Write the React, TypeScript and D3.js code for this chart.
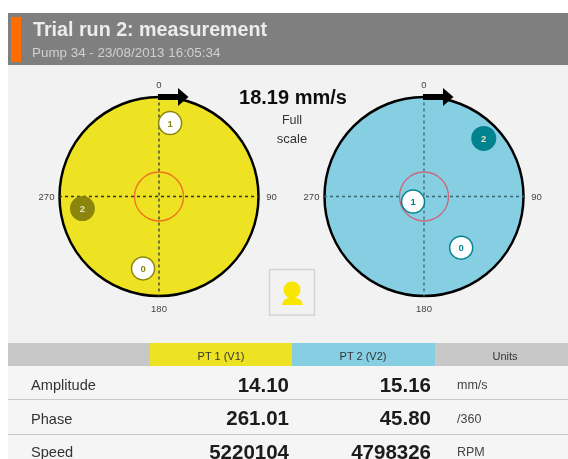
import React from "react";
import * as d3 from "d3";

const title = "Trial run 2: measurement";
const subtitle = "Pump 34 - 23/08/2013 16:05:34";
const fullScale = 18.19;
const fullScaleLabel = "18.19 mm/s";
const angleTicks = [0, 90, 180, 270];
const pt1Markers = [
  { id: "0", amp: 13.4, phase: 192.5, filled: false },
  { id: "1", amp: 13.5, phase: 8.6, filled: false },
  { id: "2", amp: 14.1, phase: 261.01, filled: true },
];
const pt2Markers = [
  { id: "0", amp: 11.5, phase: 144, filled: false },
  { id: "1", amp: 2.2, phase: 245, filled: false },
  { id: "2", amp: 15.16, phase: 45.8, filled: true },
];
const columns = ["PT 1 (V1)", "PT 2 (V2)", "Units"];
const rowLabels = ["Amplitude", "Phase", "Speed"];
const pt1Values = ["14.10", "261.01", "5220104"];
const pt2Values = ["15.16", "45.80", "4798326"];
const units = ["mm/s", "/360", "RPM"];

const font = "Liberation Sans, Arial, sans-serif";
const R = 100;
const rScale = d3.scaleLinear().domain([0, fullScale]).range([0, R]);
const aScale = d3.scaleLinear().domain([0, 360]).range([0, 2 * Math.PI]);

function Polar({ cx, cy, fill, ring, dash, mark, markers }: any) {
  return (
    <g transform={`translate(${cx},${cy})`}>
      <circle r={R - 0.5} fill={fill} stroke="#000" strokeWidth={2.5} />
      <line x1={-R} x2={R} stroke={dash} strokeWidth={1.3} strokeDasharray="3 3" />
      <line y1={-R} y2={R} stroke={dash} strokeWidth={1.3} strokeDasharray="3 3" />
      <circle r={24.5} fill="none" stroke={ring} strokeWidth={1.3} />
      <rect x={-1} y={-R - 2.5} width={21} height={6} fill="#000" />
      <path d={`M19,${-R - 8.5} L29.5,${-R + 0.5} L19,${-R + 9.5} Z`} fill="#000" />
      {angleTicks.map((t) => {
        const a = aScale(t);
        const d = t === 0 || t === 180 ? R + 12 : R + 12.5;
        return (
          <text key={t} x={Math.sin(a) * d} y={-Math.cos(a) * d + 3.5} fontSize={9.5} textAnchor="middle" fill="#444" fontFamily={font}>
            {t}
          </text>
        );
      })}
      {markers.map((m: any) => {
        const r = rScale(m.amp);
        const a = aScale(m.phase);
        const x = Math.sin(a) * r;
        const y = -Math.cos(a) * r;
        return (
          <g key={m.id} transform={`translate(${x},${y})`}>
            {m.filled ? (
              <circle r={12.5} fill={mark} />
            ) : (
              <circle r={11.5} fill="#fff" stroke={mark} strokeWidth={1.5} />
            )}
            <text y={3.5} fontSize={9.5} fontWeight="bold" textAnchor="middle" fill={m.filled ? "#e4e4c8" : mark} fontFamily={font}>
              {m.id}
            </text>
          </g>
        );
      })}
    </g>
  );
}

export default function App() {
  return (
    <svg width={568} height={459} style={{ position: "absolute", left: 0, top: 0 }}>
      <defs>
        <filter id="soft" x="0" y="0" width="100%" height="100%">
          <feGaussianBlur stdDeviation="0.55" />
        </filter>
      </defs>
      <rect width={568} height={459} fill="#fff" />
      <g filter="url(#soft)">
        <rect x={8} y={65} width={560} height={394} fill="#f2f2f2" />
        <rect x={8} y={13} width={560} height={52} fill="#7f7f7f" />
        <rect x={11} y={17} width={10} height={45} fill="#ff6c00" />
        <text x={33} y={35.5} fontSize={19.7} fontWeight="bold" fill="#ececec" fontFamily={font}>{title}</text>
        <text x={32} y={57} fontSize={13.4} fill="#d0d0d0" fontFamily={font}>{subtitle}</text>

        <Polar cx={159} cy={196.5} fill="#ede324" ring="#f0701e" dash="#333" mark="#8c8510" markers={pt1Markers} />
        <Polar cx={424} cy={196.5} fill="#86cfe2" ring="#c9687c" dash="#3a6672" mark="#05828f" markers={pt2Markers} />

        <text x={293} y={104} fontSize={20} fontWeight="bold" textAnchor="middle" fill="#111" fontFamily={font}>{fullScaleLabel}</text>
        <text x={292} y={124} fontSize={12.5} textAnchor="middle" fill="#333" fontFamily={font}>Full</text>
        <text x={292} y={143} fontSize={13} textAnchor="middle" fill="#333" fontFamily={font}>scale</text>

        <rect x={269.5} y={269.5} width={45} height={45.5} fill="#f2f2f2" stroke="#d4d4d4" strokeWidth={1.5} />
        <circle cx={292} cy={290} r={8.5} fill="#f7e600" />
        <path d="M282,305 Q283,299 288,298 L296,298 Q302,299 303,305 Z" fill="#f7e600" />

        <rect x={8} y={343} width={142} height={23} fill="#c8c8c8" />
        <rect x={150} y={343} width={142} height={23} fill="#ede324" />
        <rect x={292} y={343} width={143} height={23} fill="#86cfe2" />
        <rect x={435} y={343} width={133} height={23} fill="#c8c8c8" />
        <text x={221} y={360} fontSize={11} textAnchor="middle" fill="#333" fontFamily={font}>{columns[0]}</text>
        <text x={363} y={360} fontSize={11} textAnchor="middle" fill="#333" fontFamily={font}>{columns[1]}</text>
        <text x={505} y={360} fontSize={11} textAnchor="middle" fill="#333" fontFamily={font}>{columns[2]}</text>

        <rect x={8} y={366} width={560} height={93} fill="#f5f5f5" />
        {rowLabels.map((label, i) => {
          const base = 390 + i * 33.5;
          return (
            <g key={label}>
              <text x={31} y={base} fontSize={14.6} fill="#333" fontFamily={font}>{label}</text>
              <text x={289} y={base + 1.5} fontSize={20.5} fontWeight="bold" textAnchor="end" fill="#1a1a1a" fontFamily={font}>{pt1Values[i]}</text>
              <text x={431} y={base + 1.5} fontSize={20.5} fontWeight="bold" textAnchor="end" fill="#1a1a1a" fontFamily={font}>{pt2Values[i]}</text>
              <text x={457} y={base - 1} fontSize={12.5} fill="#444" fontFamily={font}>{units[i]}</text>
              {i < 2 && <line x1={8} x2={568} y1={399.5 + i * 35} y2={399.5 + i * 35} stroke="#c8c8c8" strokeWidth={1} />}
            </g>
          );
        })}
      </g>
    </svg>
  );
}
